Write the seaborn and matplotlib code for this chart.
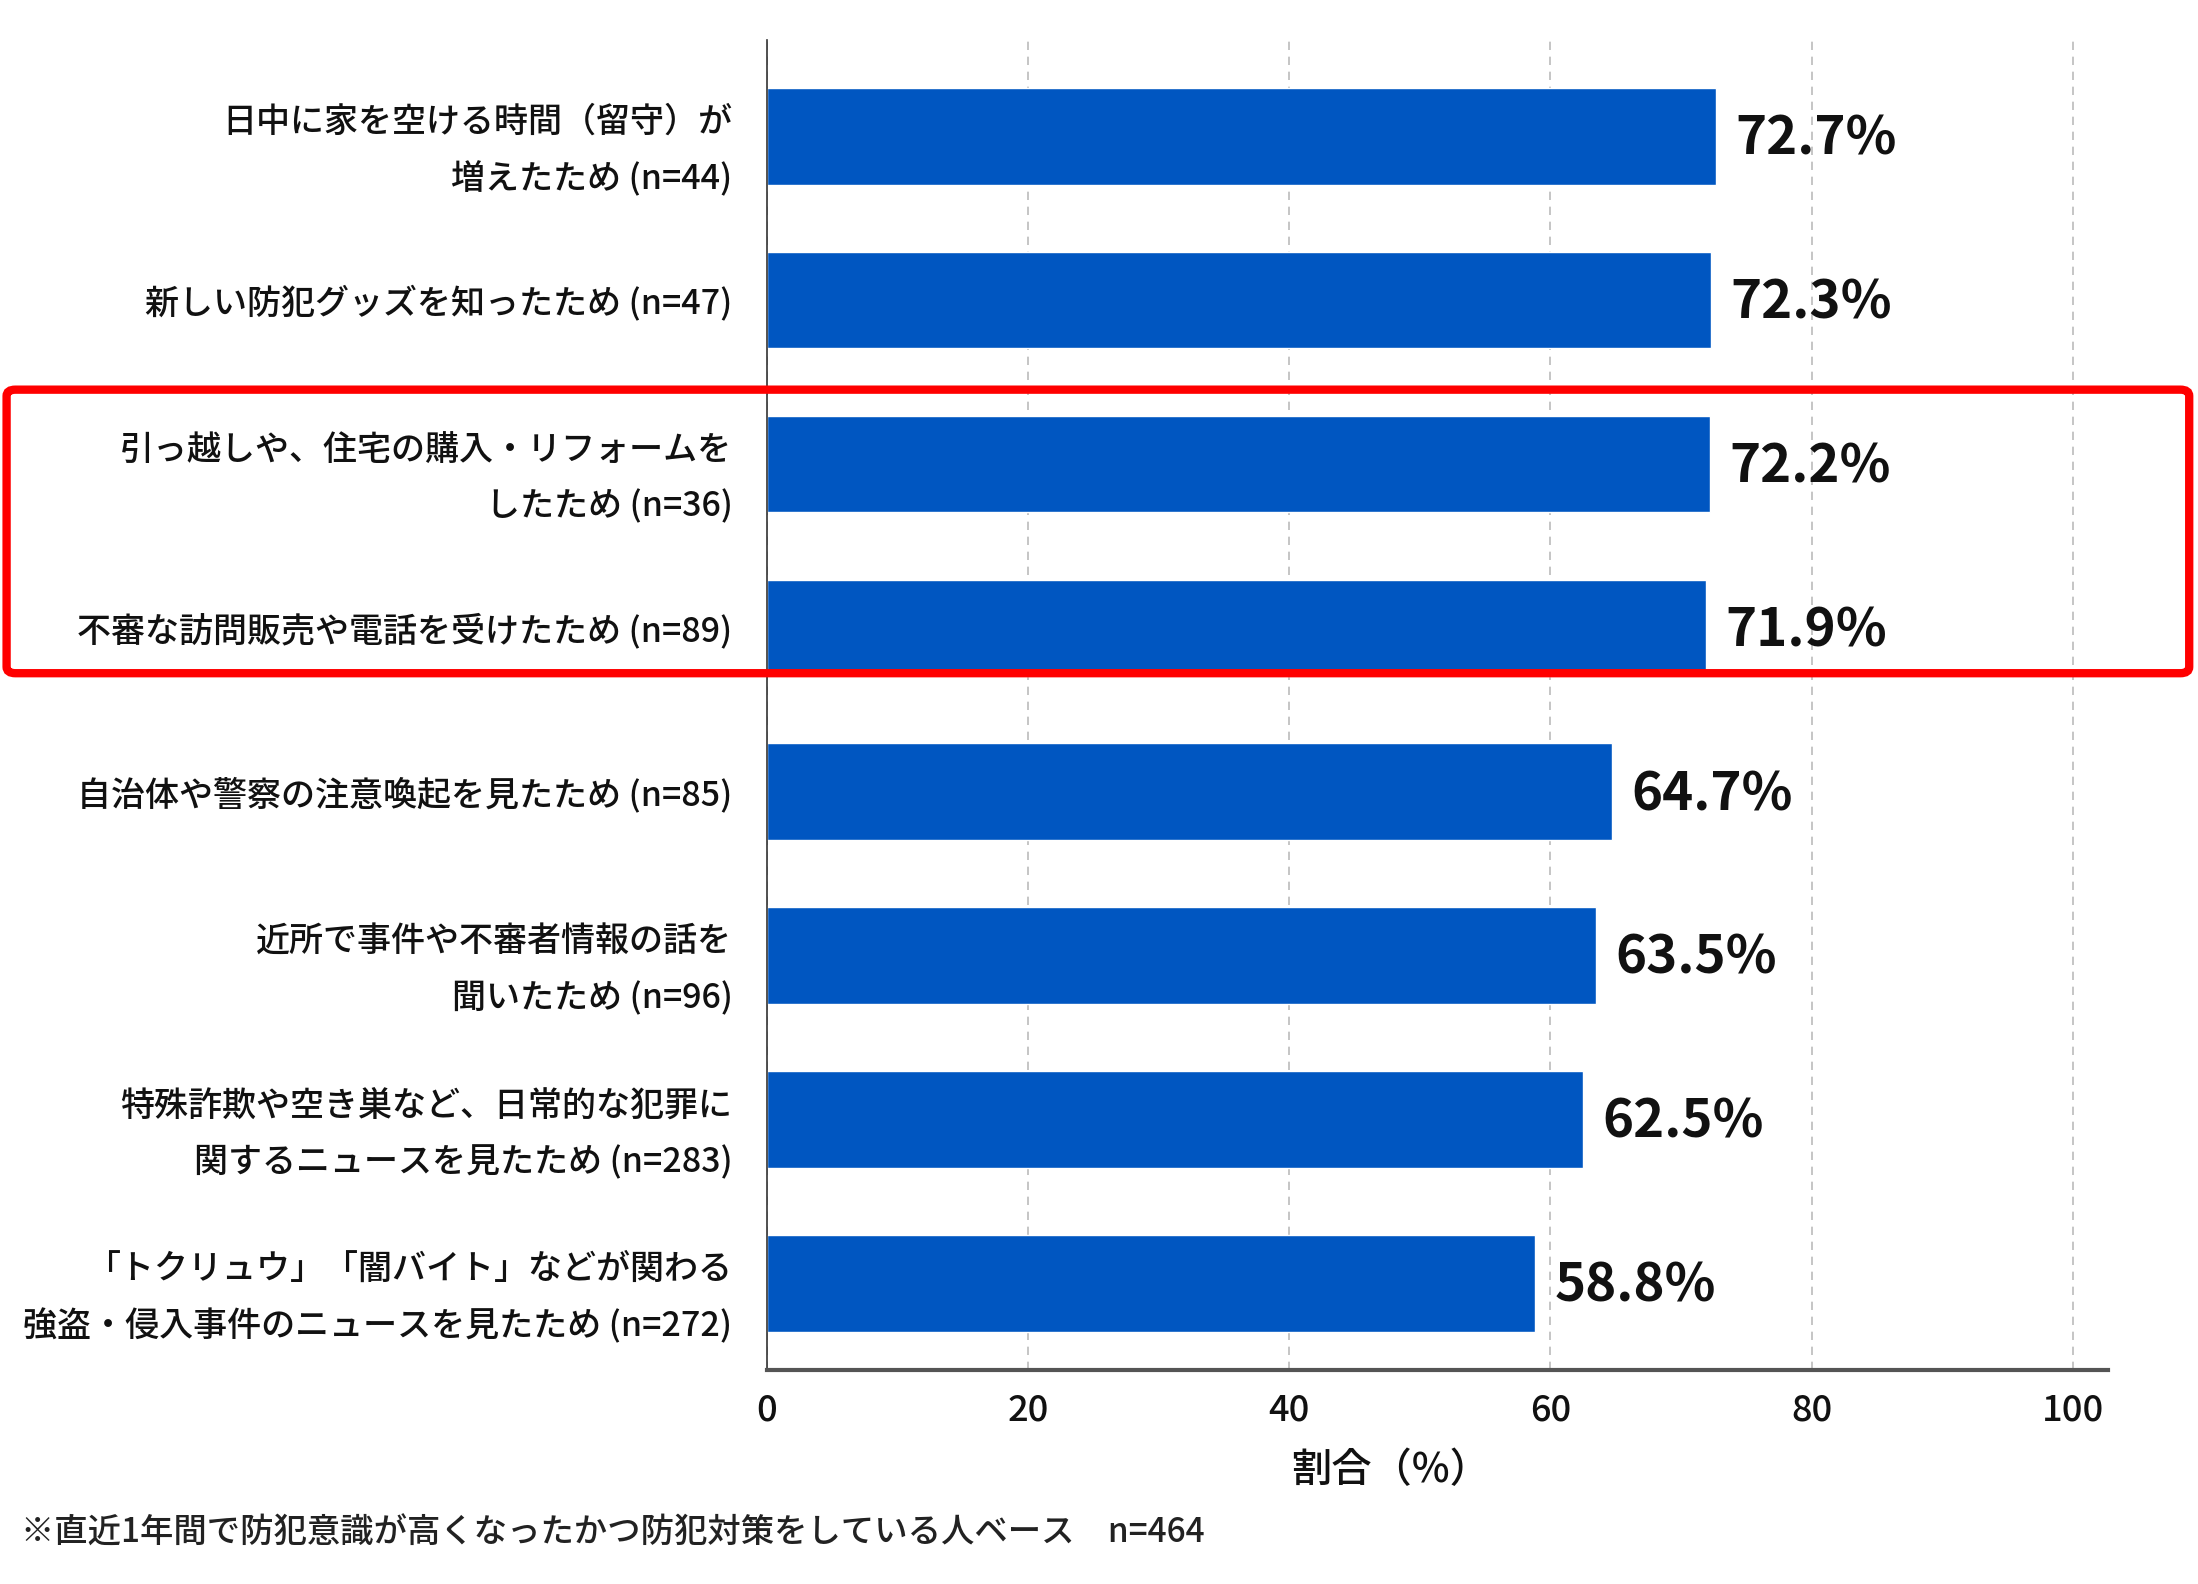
import matplotlib

matplotlib.use("Agg")
import matplotlib.pyplot as plt
import pandas as pd
import seaborn as sns
from matplotlib.patches import FancyBboxPatch

categories = [
    "日中に家を空ける時間（留守）が\n増えたため (n=44)",
    "新しい防犯グッズを知ったため (n=47)",
    "引っ越しや、住宅の購入・リフォームを\nしたため (n=36)",
    "不審な訪問販売や電話を受けたため (n=89)",
    "自治体や警察の注意喚起を見たため (n=85)",
    "近所で事件や不審者情報の話を\n聞いたため (n=96)",
    "特殊詐欺や空き巣など、日常的な犯罪に\n関するニュースを見たため (n=283)",
    "「トクリュウ」「闇バイト」などが関わる\n強盗・侵入事件のニュースを見たため (n=272)",
]
values = [72.7, 72.3, 72.2, 71.9, 64.7, 63.5, 62.5, 58.8]
x_ticks = [0, 20, 40, 60, 80, 100]
x_label = "割合（%）"
footnote = "※直近1年間で防犯意識が高くなったかつ防犯対策をしている人ベース　n=464"

bar_color = "#0056C1"

sns.set_style("white")
plt.rcParams["font.family"] = ["Noto Sans CJK JP", "DejaVu Sans"]

df = pd.DataFrame({"reason": categories, "pct": values})

fig = plt.figure(figsize=(21.98, 15.84), dpi=100)
ax = fig.add_axes([0.349, 0.135, 0.61, 0.84])

sns.barplot(
    data=df,
    x="pct",
    y="reason",
    order=categories,
    color=bar_color,
    saturation=1,
    width=0.59,
    orient="h",
    ax=ax,
)

for i, v in enumerate(values):
    ax.annotate(
        f"{v:.1f}%",
        xy=(v, i),
        xytext=(14, -2),
        textcoords="offset points",
        va="center",
        ha="left",
        fontsize=38,
        fontweight="bold",
        color="#111111",
    )

ax.set_xlim(0, 102.7)
ax.set_ylim(len(categories) - 0.47, -0.59)
ax.set_xticks(x_ticks)
ax.set_xticklabels([str(t) for t in x_ticks], fontsize=26, fontweight="medium")
ax.tick_params(axis="x", length=0, pad=16, colors="#111111")
ax.tick_params(axis="y", length=0, pad=25, colors="#111111")
for lbl in ax.get_yticklabels():
    lbl.set_fontsize(24.5)
    lbl.set_fontweight("medium")
    lbl.set_linespacing(1.8)
    lbl.set_ha("right")
    lbl.set_multialignment("right")

ax.grid(axis="x", linestyle=(0, (5, 4)), color="#BBBBBB", linewidth=1.2)
ax.set_axisbelow(True)
ax.set_ylabel("")
ax.set_xlabel(x_label, fontsize=29, fontweight="medium", color="#111111")
ax.xaxis.set_label_coords(0.465, -0.06)

for side in ["top", "right"]:
    ax.spines[side].set_visible(False)
ax.spines["left"].set_color("#333333")
ax.spines["left"].set_linewidth(1.2)
ax.spines["bottom"].set_color("#555555")
ax.spines["bottom"].set_linewidth(3)

fig.text(0.0097, 0.032, footnote, fontsize=24, fontweight="medium",
         va="center", ha="left", color="#222222")

# red highlight box around the two middle items
box = FancyBboxPatch(
    (0.003, 0.575),
    0.993,
    0.179,
    boxstyle="round,pad=0,rounding_size=0.004",
    transform=fig.transFigure,
    fill=False,
    edgecolor="#FF0000",
    linewidth=6,
    zorder=10,
)
fig.patches.append(box)

fig.savefig("out.png", dpi=100, facecolor="white")
